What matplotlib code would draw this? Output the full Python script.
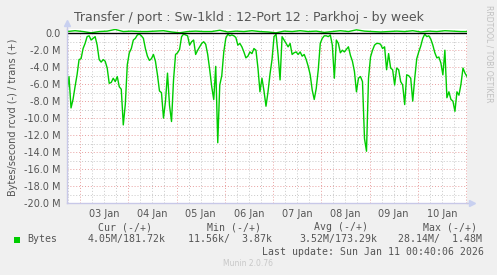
import numpy as np
import pandas as pd
import matplotlib
matplotlib.use("Agg")
import matplotlib.pyplot as plt
import matplotlib.dates as mdates
from matplotlib.ticker import MultipleLocator, FuncFormatter, NullFormatter
from matplotlib.patches import Rectangle

# hourly received bytes/s (in M), shown negative by munin
start = "2026-01-02 17:30"
rcvd_m = [
    6.9, 5.1, 8.8, 7.8, 6.3, 4.9, 3.1, 3.0, 1.8, 1.2,
    0.4, 0.3, 0.8, 0.6, 0.4, 1.4, 3.1, 3.4, 3.1, 3.3,
    4.1, 5.9, 5.8, 5.3, 5.7, 5.1, 6.3, 6.6, 10.8, 8.4,
    3.7, 2.3, 1.8, 0.8, 0.6, 0.2, 0.1, 0.3, 0.6, 1.8,
    2.7, 3.2, 3.0, 2.5, 3.3, 4.9, 6.8, 7.0, 10.0, 8.0,
    4.7, 8.5, 10.4, 5.5, 2.5, 2.3, 1.9, 0.4, 0.1, 0.2,
    0.3, 1.4, 1.0, 0.8, 2.5, 2.0, 1.6, 1.2, 1.0, 1.3,
    2.5, 4.3, 6.3, 7.8, 3.9, 12.9, 6.1, 5.0, 2.2, 0.6,
    0.1, 0.3, 0.2, 0.3, 0.5, 1.4, 1.2, 1.6, 2.2, 2.9,
    2.7, 2.2, 2.4, 1.8, 2.0, 4.1, 6.9, 5.3, 6.8, 8.6,
    6.9, 4.8, 3.1, 0.4, 0.1, 2.5, 5.5, 0.4, 0.8, 1.2,
    1.6, 1.2, 2.5, 2.3, 2.2, 2.5, 2.2, 2.7, 2.5, 3.1,
    3.9, 4.9, 6.7, 7.8, 6.5, 4.3, 1.2, 0.6, 0.3, 0.3,
    0.4, 0.2, 1.4, 5.3, 0.8, 1.2, 2.3, 2.0, 2.2, 1.9,
    1.6, 2.6, 3.3, 4.5, 6.9, 5.3, 5.1, 5.7, 12.4, 13.9,
    5.3, 2.8, 2.0, 1.4, 1.2, 1.2, 1.3, 1.8, 1.6, 4.3,
    2.4, 4.1, 4.3, 6.1, 4.1, 4.3, 5.7, 6.1, 8.4, 4.9,
    5.0, 5.3, 8.0, 5.3, 3.0, 2.2, 1.5, 0.6, 0.1, 0.4,
    0.3, 0.7, 1.4, 2.3, 2.9, 2.8, 3.5, 4.9, 2.0, 7.6,
    6.9, 7.8, 8.0, 9.2, 6.9, 7.3, 6.0, 4.1, 4.7, 5.1,
]
# 4-hourly transmitted bytes/s (in M)
trans_m = [
    0.2, 0.3, 0.2, 0.05, 0.2, 0.25, 0.45, 0.2, 0.25, 0.2,
    0.2, 0.25, 0.3, 0.15, 0.05, 0.2, 0.25, 0.2, 0.2, 0.35,
    0.15, 0.25, 0.2, 0.3, 0.2, 0.15, 0.05, 0.25, 0.2, 0.3,
    0.2, 0.25, 0.1, 0.2, 0.3, 0.2, 0.4, 0.25, 0.2, 0.15,
    0.2, 0.25, 0.2, 0.3, 0.15, 0.25, 0.2, 0.3, 0.25, 0.2,
    0.2,
]

t_rcvd = pd.date_range(start, periods=len(rcvd_m), freq="h")
t_trans = pd.date_range(start, periods=len(trans_m), freq="4h")

W, H = 497, 275
fig = plt.figure(figsize=(W / 100, H / 100), dpi=100, facecolor="#F0F0F0")
ax = fig.add_axes([67 / W, 1 - 203 / H, 400 / W, 174 / H])
ax.set_facecolor("white")

ax.set_xlim(pd.Timestamp("2026-01-02 17:30"), pd.Timestamp("2026-01-11 00:30"))
ax.set_ylim(-20, 0.5)

# grid: red dotted major, gray dotted minor
ax.xaxis.set_major_locator(mdates.DayLocator())
ax.xaxis.set_major_formatter(NullFormatter())
ax.xaxis.set_minor_locator(mdates.HourLocator(byhour=[6, 12, 18]))
ax.xaxis.set_minor_formatter(FuncFormatter(
    lambda v, p: mdates.num2date(v).strftime("%d %b") if mdates.num2date(v).hour == 12 else ""))
ax.yaxis.set_major_locator(MultipleLocator(2))
ax.yaxis.set_minor_locator(MultipleLocator(1))
ax.yaxis.set_major_formatter(FuncFormatter(lambda v, p: "0.0" if abs(v) < 1e-9 else f"{v:.1f} M"))

ax.grid(which="minor", color="#C8C8C8", linestyle=(0, (1, 2)), linewidth=0.7)
ax.grid(which="major", color="#E8A0A0", linestyle=(0, (1, 2)), linewidth=0.7)
ax.set_axisbelow(True)

ax.tick_params(which="both", length=0, colors="#555555", labelsize=7)
ax.tick_params(axis="y", pad=4.5)
ax.tick_params(axis="x", which="minor", pad=4)

for s in ["top", "right"]:
    ax.spines[s].set_visible(False)
for s in ["left", "bottom"]:
    ax.spines[s].set_color("#C8C8E8")
    ax.spines[s].set_linewidth(1)

# axis extensions with arrows
axis_col = "#C8C8E8"
ax.plot([0, 0], [1, 1.02], color=axis_col, lw=1, transform=ax.transAxes, clip_on=False)
ax.plot([0], [1.035], marker="^", ms=4, color="#C8D0F0", transform=ax.transAxes, clip_on=False)
ax.plot([1, 1.01], [0, 0], color=axis_col, lw=1, transform=ax.transAxes, clip_on=False)
ax.plot([1.013], [0], marker=">", ms=4, color="#C8D0F0", transform=ax.transAxes, clip_on=False)

ax.plot(t_rcvd, -np.array(rcvd_m), color="#00CC00", lw=1)
ax.plot(t_trans, trans_m, color="#00CC00", lw=1)
ax.axhline(0, color="black", lw=1)

txt = "#555555"
fig.text(0.5, 1 - 18 / H, "Transfer / port : Sw-1kld : 12-Port 12 : Parkhoj - by week",
         ha="center", va="center", fontsize=9, color=txt)
fig.text(13 / W, 1 - 117 / H, "Bytes/second rcvd (-) / trans (+)", rotation=90,
         ha="center", va="center", fontsize=7, color=txt)
fig.text(489 / W, 1 - 5 / H, "RRDTOOL / TOBI OETIKER", rotation=270,
         ha="center", va="top", fontsize=5.5, color="#C0C0C0")

mono = dict(family="DejaVu Sans Mono", fontsize=7.1, color=txt, va="center")
fig.text(125 / W, 1 - 227 / H, "Cur (-/+)", ha="center", **mono)
fig.text(234 / W, 1 - 227 / H, "Min (-/+)", ha="center", **mono)
fig.text(341 / W, 1 - 227 / H, "Avg (-/+)", ha="center", **mono)
fig.text(450 / W, 1 - 227 / H, "Max (-/+)", ha="center", **mono)

fig.patches.append(Rectangle((14 / W, 1 - 243 / H), 6 / W, 6 / H, transform=fig.transFigure,
                             facecolor="#00CC00", edgecolor="none"))
fig.text(27 / W, 1 - 239 / H, "Bytes", ha="left", **mono)
fig.text(88 / W, 1 - 239 / H, "4.05M/181.72k", ha="left", **mono)
fig.text(188 / W, 1 - 239 / H, "11.56k/  3.87k", ha="left", **mono)
fig.text(299 / W, 1 - 239 / H, "3.52M/173.29k", ha="left", **mono)
fig.text(398 / W, 1 - 239 / H, "28.14M/  1.48M", ha="left", **mono)
fig.text(262 / W, 1 - 252 / H, "Last update: Sun Jan 11 00:40:06 2026", ha="left", **mono)
fig.text(248 / W, 1 - 264 / H, "Munin 2.0.76", ha="center", va="center", fontsize=5.5, color="#C8C8C8")

fig.savefig("out.png", dpi=100, facecolor=fig.get_facecolor())
